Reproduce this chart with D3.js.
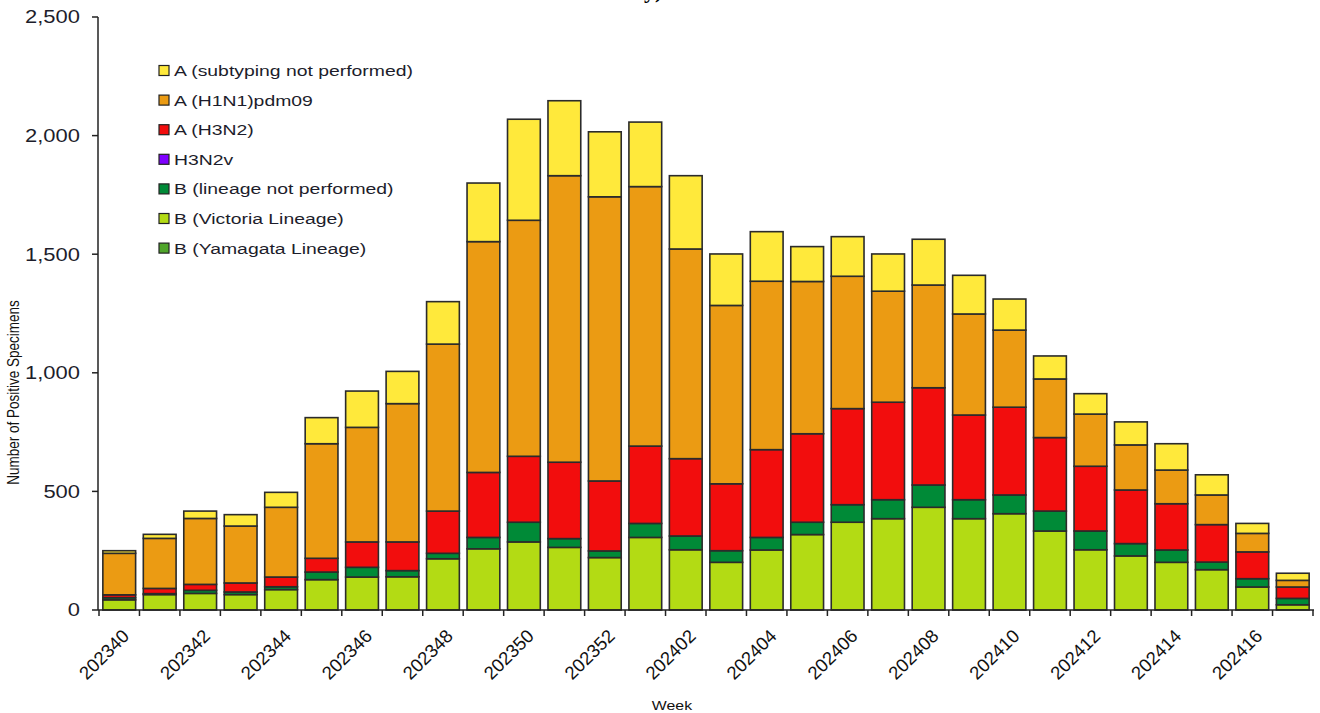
<!DOCTYPE html>
<html>
<head>
<meta charset="utf-8">
<script src="https://cdn.jsdelivr.net/npm/d3@7"></script>
<style>
  html, body { margin: 0; padding: 0; background: #fff; }
  svg { display: block; font-family: 'Liberation Sans', Arial, sans-serif; }
</style>
</head>
<body>
<svg id="chart" width="1320" height="713"></svg>
<script>
// Constants
const WIDTH = 1320;
const HEIGHT = 713;
const X0 = 99, X1 = 1313;   // plot left / right
const Y0 = 610, Y1 = 17;    // zero line / top (2,500)
const STRETCH = 1.22;       // horizontal text stretch of the source picture

// Weeks (MMWR week, yyyyww)
const weeks = [
  '202340', '202341', '202342', '202343', '202344', '202345', '202346', '202347',
  '202348', '202349', '202350', '202351', '202352', '202401', '202402', '202403',
  '202404', '202405', '202406', '202407', '202408', '202409', '202410', '202411',
  '202412', '202413', '202414', '202415', '202416', '202417',
];
const weekTicks = weeks.filter((_, i) => i % 2 === 0);
const yTicks = [0, 500, 1000, 1500, 2000, 2500];

// Series values
const bYamagata = Array(30).fill(0);
const bVictoria = [
  43, 65, 70, 65, 86, 128, 139, 140, 216, 258, 287, 264, 221, 306, 254, 201,
  253, 318, 370, 385, 433, 385, 406, 333, 254, 228, 201, 170, 97, 22,
];
const bNotPerformed = [
  9, 4, 13, 11, 12, 32, 41, 26, 23, 48, 83, 37, 28, 59, 58, 49,
  53, 52, 74, 80, 94, 80, 79, 84, 79, 52, 52, 32, 35, 27,
];
const h3n2v = Array(30).fill(0);
const aH3N2 = [
  12, 22, 25, 38, 41, 58, 107, 121, 178, 274, 278, 322, 295, 326, 326, 282,
  370, 373, 405, 411, 410, 357, 370, 310, 273, 226, 195, 158, 113, 48,
];
const aH1N1 = [
  175, 211, 278, 240, 294, 483, 483, 583, 704, 973, 995, 1208, 1198, 1094, 884, 752,
  710, 642, 558, 468, 433, 426, 325, 247, 220, 190, 142, 125, 78, 28,
];
const aNotSubtyped = [
  11, 17, 31, 48, 63, 110, 153, 136, 179, 247, 426, 316, 274, 272, 309, 217,
  209, 147, 167, 157, 193, 163, 131, 97, 86, 97, 111, 85, 42, 30,
];

// Bottom-to-top stacking order
const series = [
  { key: 'B (Yamagata Lineage)', color: '#4fa52a', values: bYamagata },
  { key: 'B (Victoria Lineage)', color: '#b3db14', values: bVictoria },
  { key: 'B (lineage not performed)', color: '#008a37', values: bNotPerformed },
  { key: 'H3N2v', color: '#7f00ff', values: h3n2v },
  { key: 'A (H3N2)', color: '#f20d0d', values: aH3N2 },
  { key: 'A (H1N1)pdm09', color: '#eb9b13', values: aH1N1 },
  { key: 'A (subtyping not performed)', color: '#ffe93b', values: aNotSubtyped },
];

// Build table for d3.stack
const table = weeks.map((w, i) => {
  const row = { week: w };
  series.forEach((s) => { row[s.key] = s.values[i]; });
  return row;
});

const stacked = d3.stack().keys(series.map((s) => s.key))(table);

const svg = d3.select('#chart');

// Scales
const x = d3.scaleBand(weeks, [X0, X1]).paddingInner(0.19).paddingOuter(0.095);
const y = d3.scaleLinear([0, 2500], [Y0, Y1]);

// Bars
const layers = svg.append('g')
  .selectAll('g')
  .data(stacked)
  .join('g')
  .attr('fill', (d, i) => series[i].color);

layers.selectAll('rect')
  .data((d) => d.filter((p) => p[1] - p[0] > 0))
  .join('rect')
  .attr('x', (d) => x(d.data.week))
  .attr('width', x.bandwidth())
  .attr('y', (d) => y(d[1]))
  .attr('height', (d) => y(d[0]) - y(d[1]))
  .attr('stroke', '#2b2b2b')
  .attr('stroke-width', 1.6);

// Y axis
const yAxis = svg.append('g').attr('id', 'y-axis');
yAxis.append('line')
  .attr('x1', X0 - 1).attr('x2', X0 - 1)
  .attr('y1', Y1).attr('y2', Y0)
  .attr('stroke', '#222').attr('stroke-width', 1.5);
yAxis.selectAll('line.tick')
  .data(yTicks)
  .join('line')
  .attr('class', 'tick')
  .attr('x1', X0 - 7).attr('x2', X0 - 1)
  .attr('y1', (d) => y(d)).attr('y2', (d) => y(d))
  .attr('stroke', '#222').attr('stroke-width', 1.5);
yAxis.selectAll('text')
  .data(yTicks)
  .join('text')
  .attr('transform', (d) => `translate(80, ${y(d)}) scale(${STRETCH}, 1)`)
  .attr('dy', '0.36em')
  .attr('text-anchor', 'end')
  .attr('font-size', 18)
  .attr('fill', '#1d1d2b')
  .text((d) => d3.format(',')(d));

// X axis
const xAxis = svg.append('g').attr('id', 'x-axis');
xAxis.append('line')
  .attr('x1', X0 - 1).attr('x2', X1 + 1)
  .attr('y1', Y0).attr('y2', Y0)
  .attr('stroke', '#222').attr('stroke-width', 1.5);
xAxis.selectAll('line.tick')
  .data(d3.range(weeks.length + 1))
  .join('line')
  .attr('class', 'tick')
  .attr('x1', (i) => X0 + i * x.step()).attr('x2', (i) => X0 + i * x.step())
  .attr('y1', Y0).attr('y2', Y0 + 6)
  .attr('stroke', '#222').attr('stroke-width', 1.5);
xAxis.selectAll('text')
  .data(weekTicks)
  .join('text')
  .attr('transform', (d) => `translate(${x(d) + x.bandwidth() / 2 + 2}, ${Y0 + 18}) rotate(-45)`)
  .attr('dy', '0.7em')
  .attr('text-anchor', 'end')
  .attr('font-size', 18.5)
  .attr('fill', '#111')
  .text((d) => d);

// Axis titles
svg.append('text')
  .attr('transform', `translate(19, ${(Y0 + 175) / 2}) scale(${STRETCH}, 1) rotate(-90)`)
  .attr('text-anchor', 'middle')
  .attr('font-size', 13.5)
  .attr('fill', '#111')
  .text('Number of Positive Specimens');

svg.append('text')
  .attr('transform', `translate(672, 710) scale(${STRETCH}, 1)`)
  .attr('text-anchor', 'middle')
  .attr('font-size', 13)
  .attr('fill', '#111')
  .text('Week');

// Cut-off chart title fragment at the very top (as in the source)
svg.append('text')
  .attr('x', 644)
  .attr('y', -2)
  .attr('font-family', "'Liberation Serif', serif")
  .attr('font-weight', 'bold')
  .attr('font-size', 22)
  .attr('fill', '#000')
  .text('y)');

// Legend (top to bottom, reverse of stacking)
const legend = svg.append('g')
  .attr('id', 'legend')
  .selectAll('g')
  .data(series.slice().reverse())
  .join('g')
  .attr('transform', (_, i) => `translate(159, ${70.5 + i * 29.6})`);

legend.append('rect')
  .attr('x', 0).attr('y', -5)
  .attr('width', 10).attr('height', 10)
  .attr('fill', (d) => d.color)
  .attr('stroke', '#222').attr('stroke-width', 1.2);

legend.append('text')
  .attr('transform', `translate(15, 0) scale(1.25, 1)`)
  .attr('dy', '0.36em')
  .attr('font-size', 15.5)
  .attr('fill', '#1d1d2b')
  .text((d) => d.key);
</script>
</body>
</html>
